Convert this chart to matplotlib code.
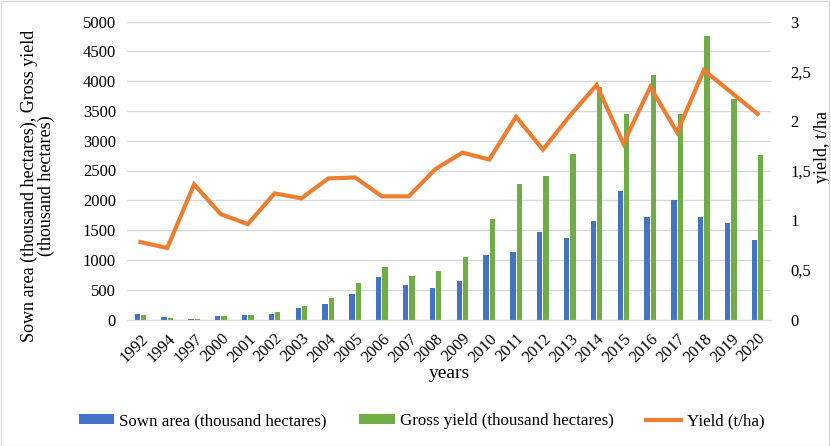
import matplotlib
import numpy as np

matplotlib.use("Agg")
import matplotlib.pyplot as plt
from matplotlib.lines import Line2D
from matplotlib.patches import Patch, Rectangle

years = ["1992", "1994", "1997", "2000", "2001", "2002", "2003", "2004", "2005",
         "2006", "2007", "2008", "2009", "2010", "2011", "2012", "2013", "2014",
         "2015", "2016", "2017", "2018", "2019", "2020"]
sown_area = [90, 40, 5, 60, 72, 90, 185, 252, 420, 711, 576, 531, 644, 1075,
             1131, 1472, 1366, 1657, 2156, 1719, 2000, 1714, 1618, 1338]
gross_yield = [72, 22, 10, 57, 72, 123, 229, 358, 605, 884, 723, 812, 1042, 1680,
               2268, 2408, 2773, 3898, 3456, 4101, 3456, 4750, 3697, 2756]
yield_tha = [0.78, 0.72, 1.36, 1.06, 0.96, 1.27, 1.22, 1.42, 1.43, 1.24, 1.24,
             1.515, 1.68, 1.61, 2.04, 1.71, 2.05, 2.36, 1.77, 2.34, 1.885, 2.51,
             2.29, 2.07]

BLUE = "#4472C4"
GREEN = "#70AD47"
ORANGE = "#ED7D31"

plt.rcParams["font.family"] = ["Liberation Serif", "DejaVu Serif"]

fig = plt.figure(figsize=(8.31, 4.46), dpi=100)
ax = fig.add_axes([127 / 831, 1 - 319.5 / 446, 644 / 831, 298 / 446])

x = np.arange(len(years))
width = 0.2
ax.bar(x - width / 2 - 0.02, sown_area, width, color=BLUE, zorder=2)
ax.bar(x + width / 2 + 0.02, gross_yield, width, color=GREEN, zorder=2)

ax.set_xlim(-0.5, len(years) - 0.5)
ax.set_ylim(0, 5000)
ax.set_yticks(range(0, 5001, 500))
ax.set_yticklabels([str(v) for v in range(0, 5001, 500)], fontsize=12)
ax.grid(True, axis="y", color="#d9d9d9", linewidth=1, zorder=0)
ax.set_axisbelow(True)
ax.set_xticks(x)
ax.set_xticklabels(years, rotation=45, ha="right", rotation_mode="anchor", fontsize=12)
ax.tick_params(axis="both", length=0, pad=8)
for side in ["top", "left", "right"]:
    ax.spines[side].set_visible(False)
ax.spines["bottom"].set_color("#d9d9d9")
ax.set_xlabel("years", fontsize=14, labelpad=0)
ax.set_ylabel("Sown area (thousand hectares), Gross yield\n(thousand hectares)",
              fontsize=13, linespacing=1.0)
ax.yaxis.set_label_coords(-0.112, 0.448)

ax2 = ax.twinx()
ax2.plot(x, yield_tha, color=ORANGE, linewidth=3, solid_joinstyle="miter", zorder=3)
ax2.set_ylim(0, 3)
ax2.set_yticks([0, 0.5, 1, 1.5, 2, 2.5, 3])
ax2.set_yticklabels(["0", "0,5", "1", "1,5", "2", "2,5", "3"], fontsize=12)
ax2.tick_params(axis="y", length=0, pad=14)
for side in ["top", "left", "right", "bottom"]:
    ax2.spines[side].set_visible(False)
ax2.set_ylabel("yield, t/ha", fontsize=13)
ax2.yaxis.set_label_coords(1.066, 0.579)

handles = [
    Patch(facecolor=BLUE, label="Sown area (thousand hectares)"),
    Patch(facecolor=GREEN, label="Gross yield (thousand hectares)"),
    Line2D([0], [0], color=ORANGE, linewidth=3, label="Yield (t/ha)"),
]
fig.legend(handles=handles, loc="center", bbox_to_anchor=(421.5 / 831, 1 - 421 / 446),
           ncol=3, frameon=False, fontsize=12.2, handlelength=2.1, handleheight=0.46,
           columnspacing=1.9, handletextpad=0.3, borderpad=0, borderaxespad=0)

fig.patches.append(Rectangle((0.001, 0.001), 0.997, 0.997, transform=fig.transFigure,
                             fill=False, edgecolor="#d9d9d9", linewidth=1))

fig.savefig("out.png", dpi=100)
plt.close(fig)
